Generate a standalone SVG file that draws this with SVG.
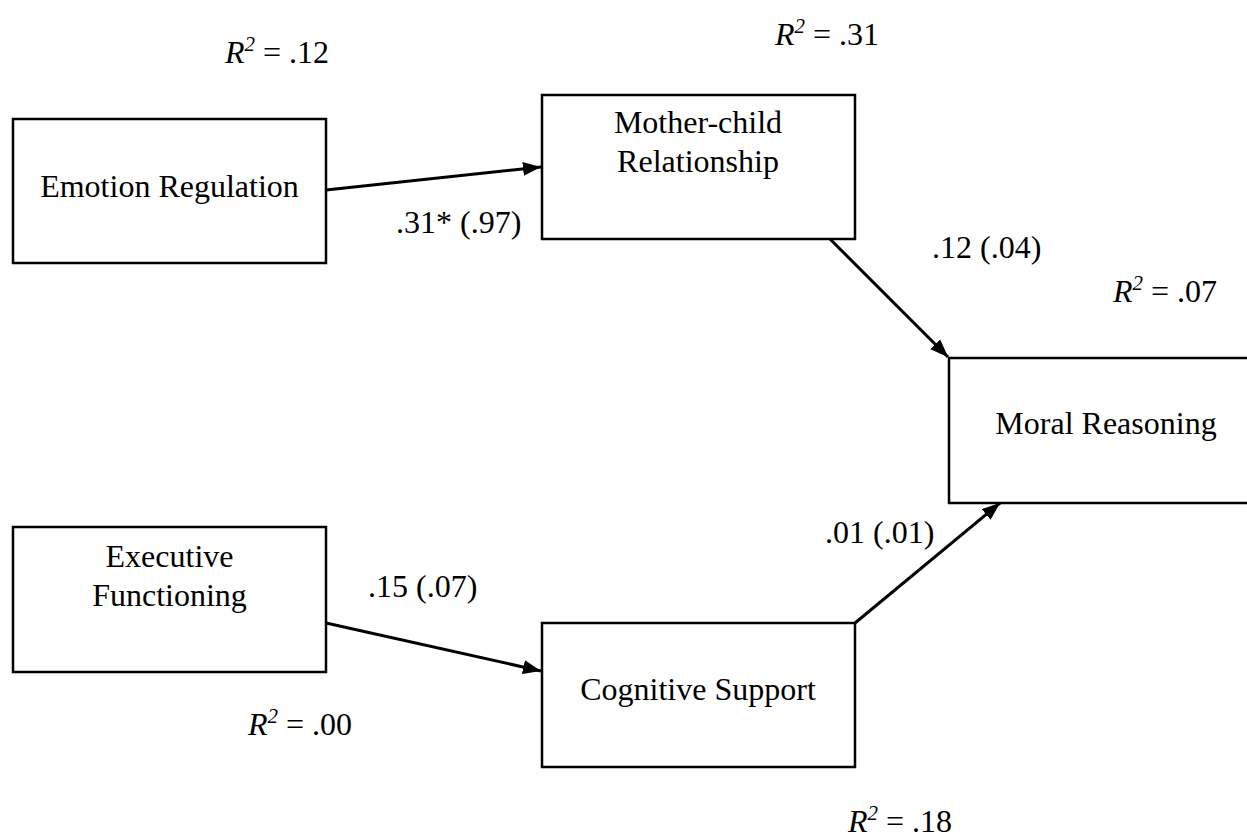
<svg xmlns="http://www.w3.org/2000/svg" width="1247" height="837" viewBox="0 0 1247 837">
<style>
  .box { fill: #ffffff; stroke: #000000; stroke-width: 2.5; }
  .t { font-family: "Liberation Serif", "Times New Roman", serif; font-size: 32px; fill: #000000; }
  .c { text-anchor: middle; }
  .i { font-style: italic; }
  .sup { font-style: italic; font-size: 21px; }
  .edge { stroke: #000000; stroke-width: 3; fill: none; marker-end: url(#arrow); }
</style>
<defs>
  <marker id="arrow" markerUnits="userSpaceOnUse" markerWidth="20" markerHeight="16" refX="18" refY="7" orient="auto">
    <path d="M0,0 L18,7 L0,14 z" fill="#000000"/>
  </marker>
</defs>
<rect width="1247" height="837" fill="#ffffff"/>

<g id="connectors">
  <line class="edge" x1="326" y1="190" x2="541" y2="167"/>
  <line class="edge" x1="830" y1="239" x2="948" y2="357"/>
  <line class="edge" x1="326" y1="623" x2="541" y2="671"/>
  <line class="edge" x1="855" y1="623" x2="1000" y2="503"/>
</g>

<g id="node-emotion">
  <rect class="box" x="13" y="119" width="313" height="144"/>
  <text class="t c" x="169.5" y="197">Emotion Regulation</text>
</g>
<g id="node-mother">
  <rect class="box" x="542" y="95" width="313" height="144"/>
  <text class="t c" x="698" y="133">Mother-child</text>
  <text class="t c" x="698" y="172">Relationship</text>
</g>
<g id="node-moral">
  <rect class="box" x="949" y="358" width="310" height="145"/>
  <text class="t c" x="1106" y="434">Moral Reasoning</text>
</g>
<g id="node-executive">
  <rect class="box" x="13" y="527" width="313" height="145"/>
  <text class="t c" x="169.5" y="567">Executive</text>
  <text class="t c" x="169.5" y="606">Functioning</text>
</g>
<g id="node-cognitive">
  <rect class="box" x="542" y="623" width="313" height="144"/>
  <text class="t c" x="698" y="700">Cognitive Support</text>
</g>

<g id="labels">
  <text class="t" x="225" y="63"><tspan class="i">R</tspan><tspan class="sup" dy="-12">2</tspan><tspan dy="12"> = .12</tspan></text>
  <text class="t" x="775" y="45"><tspan class="i">R</tspan><tspan class="sup" dy="-12">2</tspan><tspan dy="12"> = .31</tspan></text>
  <text class="t" x="1113" y="302"><tspan class="i">R</tspan><tspan class="sup" dy="-12">2</tspan><tspan dy="12"> = .07</tspan></text>
  <text class="t" x="248" y="735"><tspan class="i">R</tspan><tspan class="sup" dy="-12">2</tspan><tspan dy="12"> = .00</tspan></text>
  <text class="t" x="848" y="832"><tspan class="i">R</tspan><tspan class="sup" dy="-12">2</tspan><tspan dy="12"> = .18</tspan></text>
  <text class="t" x="396" y="233">.31* (.97)</text>
  <text class="t" x="932" y="258">.12 (.04)</text>
  <text class="t" x="825" y="543">.01 (.01)</text>
  <text class="t" x="368" y="597">.15 (.07)</text>
</g>
</svg>
